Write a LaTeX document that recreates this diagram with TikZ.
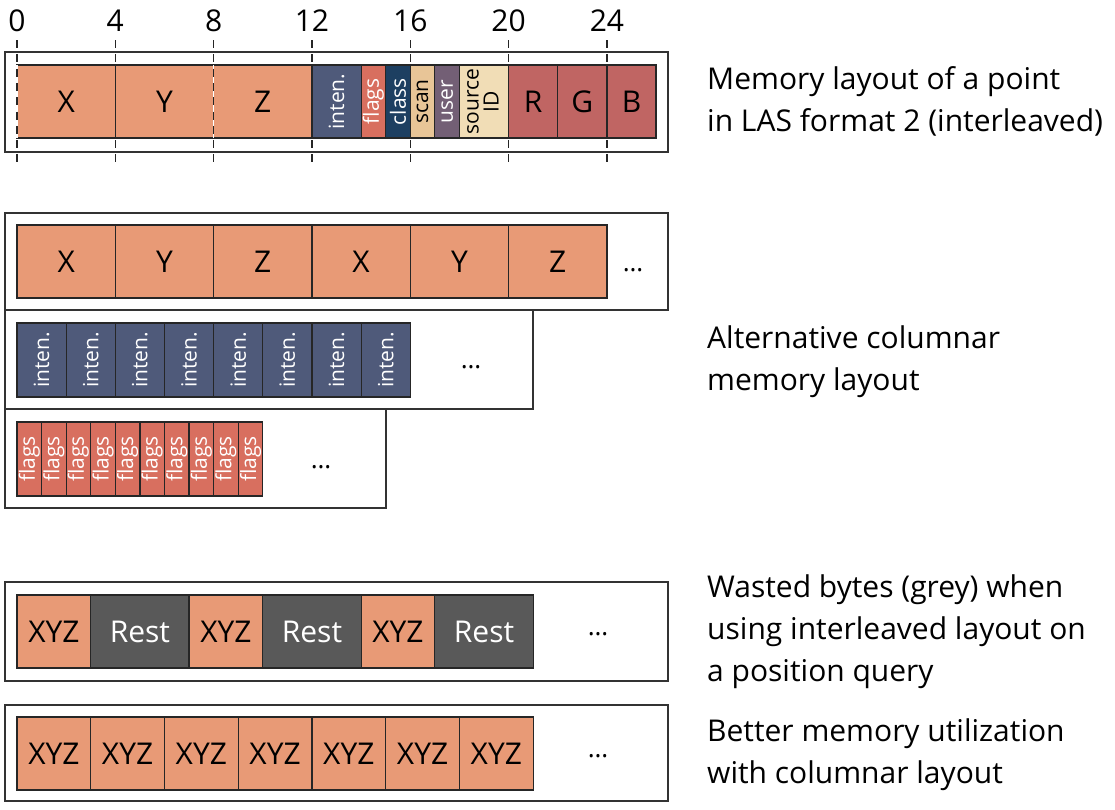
\documentclass[tikz,border=0pt]{standalone}
\usepackage{fontspec}
\setmainfont{Open Sans}
\definecolor{cxyz}{HTML}{E89A76}
\definecolor{cint}{HTML}{4F5A7A}
\definecolor{cflg}{HTML}{D86F5F}
\definecolor{ccls}{HTML}{1D3F61}
\definecolor{cscn}{HTML}{E8C597}
\definecolor{cusr}{HTML}{735F75}
\definecolor{csrc}{HTML}{F1DDB6}
\definecolor{crgb}{HTML}{C06563}
\definecolor{crest}{HTML}{595959}
\newcommand\fsbig{\fontsize{30}{32}\selectfont}
\newcommand\fssmall{\fontsize{21}{23}\selectfont}
\newcommand\fstext{\fontsize{30}{42}\selectfont}
\newcommand\fstick{\fontsize{30}{32}\selectfont}
\newcommand\fsdots{\fontsize{26}{30}\selectfont}
\newcommand\rot[1]{\rotatebox{90}{\fssmall #1}}
\begin{document}
\begin{tikzpicture}[x=1pt,y=-1pt,
  outerbox/.style={draw=black!80, line width=1.6pt, fill=white},
  cell/.style={draw=black!85, line width=1.2pt, inner sep=0pt, outer sep=0pt, anchor=north west, font=\fsbig},
  cellA/.style={cell, minimum height=73pt},
  dots/.style={font=\fsdots, inner sep=0pt},
  desc/.style={font=\fstext, align=left, anchor=west, inner sep=0pt},
  tick/.style={draw=black!85, line width=1.2pt, dash pattern=on 8pt off 6.3pt},
  ticklabel/.style={font=\fstick, inner sep=0pt}]
\useasboundingbox (0,0) rectangle (1115,809);
\def\b{24.58}
% ---------------- top: LAS format 2 ----------------
\draw[outerbox] (5,52) rectangle (668,152);
\foreach \i/\n in {0/0,1/4,2/8,3/12,4/16,5/20,6/24}{
  \draw[tick] ({17+\i*4*\b},40) -- ({17+\i*4*\b},163);
  \node[ticklabel] (tl\i) at ({17+\i*4*\b},21) {\n};
}
\node[cellA, fill=cxyz, minimum width={4*\b pt}] (t1) at (17,65) {X};
\node[cellA, fill=cxyz, minimum width={4*\b pt}] (t2) at ({17+4*\b},65) {Y};
\node[cellA, fill=cxyz, minimum width={4*\b pt}] (t3) at ({17+8*\b},65) {Z};
\node[cellA, fill=cint, text=white, minimum width={2*\b pt}] (t4) at ({17+12*\b},65) {\rot{inten.}};
\node[cellA, fill=cflg, text=white, minimum width={\b pt}] (t5) at ({17+14*\b},65) {\rot{flags}};
\node[cellA, fill=ccls, text=white, minimum width={\b pt}] (t6) at ({17+15*\b},65) {\rot{class}};
\node[cellA, fill=cscn, minimum width={\b pt}] (t7) at ({17+16*\b},65) {\rot{scan}};
\node[cellA, fill=cusr, text=white, minimum width={\b pt}] (t8) at ({17+17*\b},65) {\rot{user}};
\node[cellA, fill=csrc, minimum width={2*\b pt}] (t9) at ({17+18*\b},65) {\rotatebox{90}{\fssmall\begin{tabular}{@{}c@{}}source\\[-3pt]ID\end{tabular}}};
\node[cellA, fill=crgb, minimum width={2*\b pt}] (t10) at ({17+20*\b},65) {R};
\node[cellA, fill=crgb, minimum width={2*\b pt}] (t11) at ({17+22*\b},65) {G};
\node[cellA, fill=crgb, minimum width={2*\b pt}] (t12) at ({17+24*\b},65) {B};
% dashed look of the borders at byte 0 and byte 8
\foreach \i in {0,2}{
  \draw[white, line width=1.2pt] ({17+\i*4*\b},65) -- ({17+\i*4*\b},138);
  \draw[tick] ({17+\i*4*\b},40) -- ({17+\i*4*\b},163);
}
\node[desc] (d1) at (707,101) {Memory layout of a point\\in LAS format 2 (interleaved)};
% ---------------- columnar ----------------
\draw[outerbox] (5,213) rectangle (668,310);
\draw[outerbox] (5,310) rectangle (533,409);
\draw[outerbox] (5,409) rectangle (386,508);
\foreach \i/\t in {0/X,1/Y,2/Z,3/X,4/Y,5/Z}{
  \node[cellA, fill=cxyz, minimum width={4*\b pt}] (a\i) at ({17+\i*4*\b},225) {\t};
}
\node[dots] (ad) at (633,270) {…};
\foreach \i in {0,...,7}{
  \node[cell, fill=cint, text=white, minimum width={2*\b pt}, minimum height=74pt] (b\i) at ({17+\i*2*\b},323) {\rot{inten.}};
}
\node[dots] (bd) at (471,367) {…};
\foreach \i in {0,...,9}{
  \node[cell, fill=cflg, text=white, minimum width={\b pt}, minimum height=74pt] (c\i) at ({17+\i*\b},422) {\rot{flags}};
}
\node[dots] (cd) at (321,467) {…};
\node[desc] (d2) at (707,361.5) {Alternative columnar\\memory layout};
% ---------------- wasted bytes ----------------
\draw[outerbox] (5,582) rectangle (668,681);
\foreach \i in {0,1,2}{
  \node[cellA, fill=cxyz, minimum width={3*\b pt}] (e\i) at ({17+\i*7*\b},595) {XYZ};
  \node[cellA, fill=crest, text=white, minimum width={4*\b pt}] (r\i) at ({17+\i*7*\b+3*\b},595) {Rest};
}
\node[dots] (ed) at (598,634) {…};
\node[desc] (d3) at (707,632) {Wasted bytes (grey) when\\using interleaved layout on\\a position query};
\draw[outerbox] (5,705) rectangle (668,801);
\foreach \i in {0,...,6}{
  \node[cellA, fill=cxyz, minimum width={3*\b pt}] (f\i) at ({17+\i*3*\b},717) {XYZ};
}
\node[dots] (fd) at (598,756) {…};
\node[desc] (d4) at (707,754.5) {Better memory utilization\\with columnar layout};
\end{tikzpicture}
\end{document}
